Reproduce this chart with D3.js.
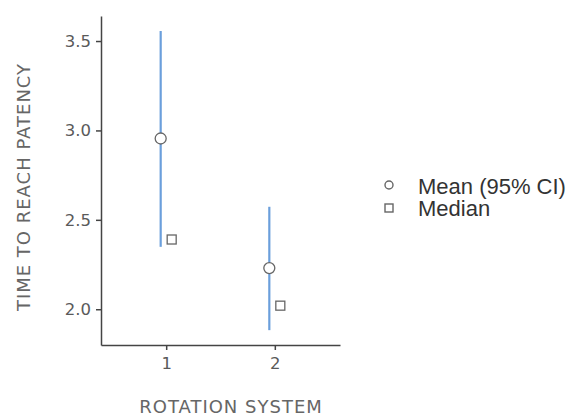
<!DOCTYPE html>
<html>
<head>
<meta charset="utf-8">
<script src="https://cdn.jsdelivr.net/npm/d3@7"></script>
<style>
  body { margin: 0; background: #fff; }
  svg { font-family: "DejaVu Sans", sans-serif; }
</style>
</head>
<body>
<svg id="chart" width="570" height="416"></svg>
<script>
// data
var groups = ['1', '2'];
var means = [2.955, 2.23];
var ciLow = [2.349, 1.883];
var ciHigh = [3.556, 2.573];
var medians = [2.39, 2.02];
var yTicks = [2.0, 2.5, 3.0, 3.5];

var svg = d3.select('#chart');
var margin = { left: 101, top: 16, right: 230, bottom: 71 };
var width = 570 - margin.left - margin.right;
var height = 416 - margin.top - margin.bottom;

var g = svg.append('g')
    .attr('transform', 'translate(' + margin.left + ',' + margin.top + ')');

var x = d3.scalePoint().domain(groups).range([0, width]).padding(0.6);
var y = d3.scaleLinear().domain([1.8, 3.64]).range([height, 0]);

// axes
var yAxis = g.append('g').call(d3.axisLeft(y).tickValues(yTicks).tickFormat(d3.format('.1f'))
    .tickSizeInner(5).tickSizeOuter(0));
var xAxis = g.append('g').attr('transform', 'translate(0,' + height + ')')
    .call(d3.axisBottom(x).tickSizeInner(5).tickSizeOuter(0));

[yAxis, xAxis].forEach(function(a) {
  a.attr('font-size', null).attr('font-family', null);
  a.select('.domain').attr('stroke', '#444').attr('stroke-width', 1.5);
  a.selectAll('.tick line').attr('stroke', '#444').attr('stroke-width', 1.5);
  a.selectAll('.tick text').attr('fill', '#5a5a5a').style('font-size', '16.5px');
});
yAxis.selectAll('.tick text').attr('x', -10);
xAxis.selectAll('.tick text').attr('y', 12);

var dodge = 5.5;

// error bars
g.selectAll('line.ci').data(groups).enter().append('line')
    .attr('class', 'ci')
    .attr('x1', function(d) { return x(d) - dodge; })
    .attr('x2', function(d) { return x(d) - dodge; })
    .attr('y1', function(d, i) { return y(ciLow[i]); })
    .attr('y2', function(d, i) { return y(ciHigh[i]); })
    .attr('stroke', '#6b9fdc')
    .attr('stroke-width', 2.2);

// mean circles
g.selectAll('circle.mean').data(groups).enter().append('circle')
    .attr('class', 'mean')
    .attr('cx', function(d) { return x(d) - dodge; })
    .attr('cy', function(d, i) { return y(means[i]); })
    .attr('r', 5.5)
    .attr('fill', '#fff')
    .attr('stroke', '#666')
    .attr('stroke-width', 1.3);

// median squares
g.selectAll('rect.median').data(groups).enter().append('rect')
    .attr('class', 'median')
    .attr('x', function(d) { return x(d) + dodge - 4.5; })
    .attr('y', function(d, i) { return y(medians[i]) - 4.5; })
    .attr('width', 9)
    .attr('height', 9)
    .attr('fill', '#fff')
    .attr('stroke', '#666')
    .attr('stroke-width', 1.3);

// axis titles
svg.append('text')
    .attr('transform', 'translate(30,187) rotate(-90)')
    .attr('text-anchor', 'middle')
    .attr('fill', '#666')
    .style('font-size', '18px')
    .style('letter-spacing', '1px')
    .text('TIME TO REACH PATENCY');

svg.append('text')
    .attr('x', 231)
    .attr('y', 413)
    .attr('text-anchor', 'middle')
    .attr('fill', '#666')
    .style('font-size', '18px')
    .style('letter-spacing', '1px')
    .text('ROTATION SYSTEM');

// legend
var legend = svg.append('g').attr('transform', 'translate(389,185)')
    .style('font-family', '"Liberation Sans", Arial, sans-serif');
legend.append('circle').attr('cx', 0).attr('cy', 0).attr('r', 4)
    .attr('fill', '#fff').attr('stroke', '#666').attr('stroke-width', 1.4);
legend.append('text').attr('x', 29).attr('y', 8.5).attr('fill', '#333')
    .style('font-size', '22px').text('Mean (95% CI)');
legend.append('rect').attr('x', -4).attr('y', 19).attr('width', 8).attr('height', 8)
    .attr('fill', '#fff').attr('stroke', '#666').attr('stroke-width', 1.4);
legend.append('text').attr('x', 29).attr('y', 31).attr('fill', '#333')
    .style('font-size', '22px').text('Median');
</script>
</body>
</html>
